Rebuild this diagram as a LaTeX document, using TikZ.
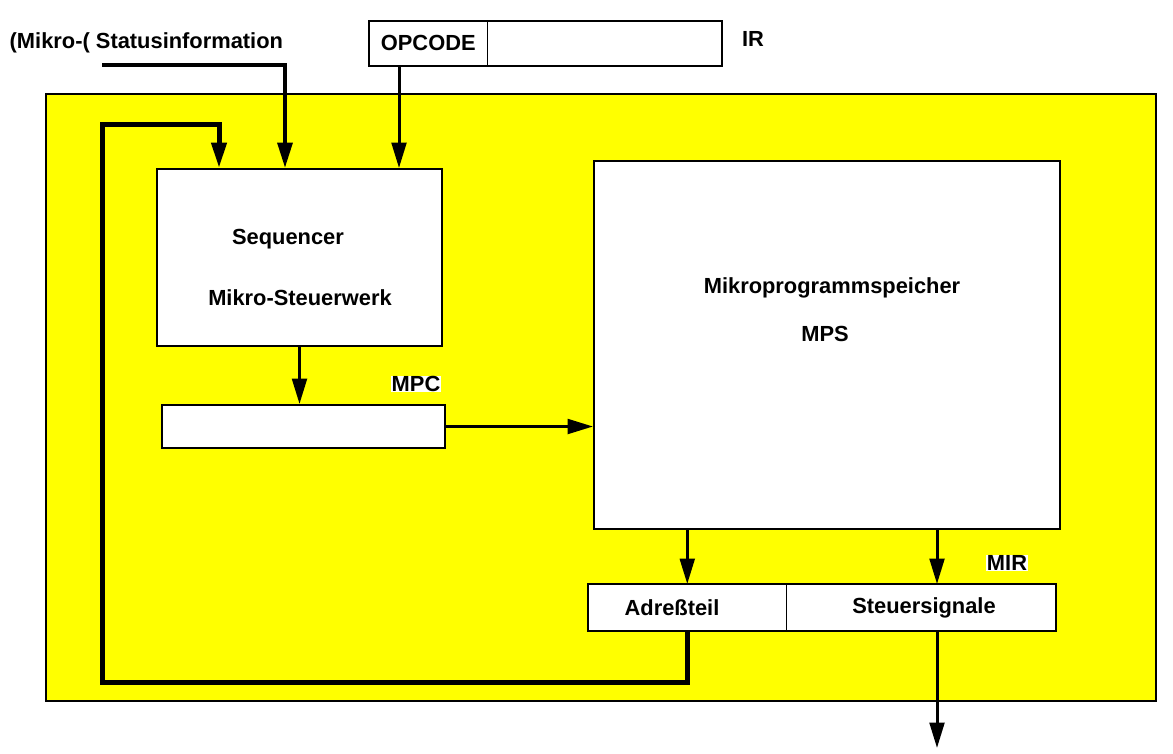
\documentclass[tikz,border=0pt]{standalone}
\usepackage{fontspec}
\setmainfont{Liberation Sans}
\usetikzlibrary{positioning, arrows.meta}
\definecolor{cpuyellow}{RGB}{255,255,0}

\begin{document}
\begin{tikzpicture}[
		x=0.75pt, y=-0.75pt,
		box/.style={rectangle, draw, fill=white, line width=1.5pt, inner sep=0pt, anchor=north west},
		cell/.style={rectangle, fill=white, inner sep=0pt, anchor=north west},
		lbl/.style={font=\fontsize{16.4}{19}\selectfont\bfseries},
		tag/.style={lbl, fill=white, inner sep=0.5pt},
		sig/.style={-{Triangle[length=19pt, width=11pt]}, line width=2.25pt},
		bus/.style={line width=3.75pt}
	]
	\useasboundingbox (0,0) rectangle (1173,753);

	\node[box, fill=cpuyellow, minimum width=832.5pt, minimum height=455.25pt] (cpu) at (45,93) {};

	% IR
	\node[cell, lbl, minimum width=88.5pt, minimum height=33pt] (opcode) at (369,21) {OPCODE};
	\node[cell, minimum width=175.5pt, minimum height=33pt] (irrest) at (opcode.north east) {};
	\draw[line width=1.5pt] (opcode.north west) rectangle (irrest.south east);
	\draw[line width=0.6pt] (opcode.north east) -- (opcode.south east);
	\node[lbl] (irlbl) at (753,39) {IR};

	\node[lbl, anchor=west] (status) at (5,43) {(Mikro-( Statusinformation};

	% Sequencer and MPC
	\node[box, minimum width=213.75pt, minimum height=132.75pt] (seq) at (156,168) {};
	\node[lbl] (seqname) at (288,239) {Sequencer};
	\node[lbl] (seqsub) at (300,298) {Mikro-Steuerwerk};
	\node[box, minimum width=212.25pt, minimum height=32.25pt] (mpc) at (161,404) {};
	\node[tag] (mpclbl) at (416,384) {MPC};

	% MPS
	\node[box, minimum width=349.5pt, minimum height=276pt] (mps) at (593,160) {};
	\node[lbl] (mpsname) at (832,288) {Mikroprogrammspeicher};
	\node[lbl] (mpssub) at (825,334) {MPS};

	% MIR
	\node[cell, minimum width=148.5pt, minimum height=34.5pt] (addr) at (588,584) {};
	\node[cell, minimum width=201.75pt, minimum height=34.5pt] (ctrl) at (addr.north east) {};
	\draw[line width=1.5pt] (addr.north west) rectangle (ctrl.south east);
	\draw[line width=0.6pt] (addr.north east) -- (addr.south east);
	\node[lbl] (addrtxt) at (672,608) {Adreßteil};
	\node[lbl] (ctrltxt) at (924,608) {Steuersignale};
	\node[tag] (mirlbl) at (1007,563) {MIR};

	% connectors
	\coordinate (statin) at (102,65);
	\coordinate (seqin1) at (219,168);
	\coordinate (seqin2) at (285,168);
	\coordinate (seqin3) at (399,168);
	\coordinate (loopbl) at (102,682);
	\coordinate (looptl) at (102,124);
	\coordinate (mirin) at (937,584);
	\coordinate (out) at (937,748);

	\draw[sig, line width=3pt] (statin) -| (seqin2);
	\draw[sig] (seqin3 |- opcode.south) -- (seqin3);
	\draw[sig, bus] (addr.south) |- (loopbl) -- (looptl) -| (seqin1);

	\draw[sig] (seq.south) -- (seq.south |- mpc.north);
	\draw[sig] (mpc.east) -- (mpc.east -| mps.west);

	\foreach \i in {addr.north, mirin}
		\draw[sig] (\i |- mps.south) -- (\i);

	\draw[sig] (mirin |- ctrl.south) -- (out);

\end{tikzpicture}
\end{document}
